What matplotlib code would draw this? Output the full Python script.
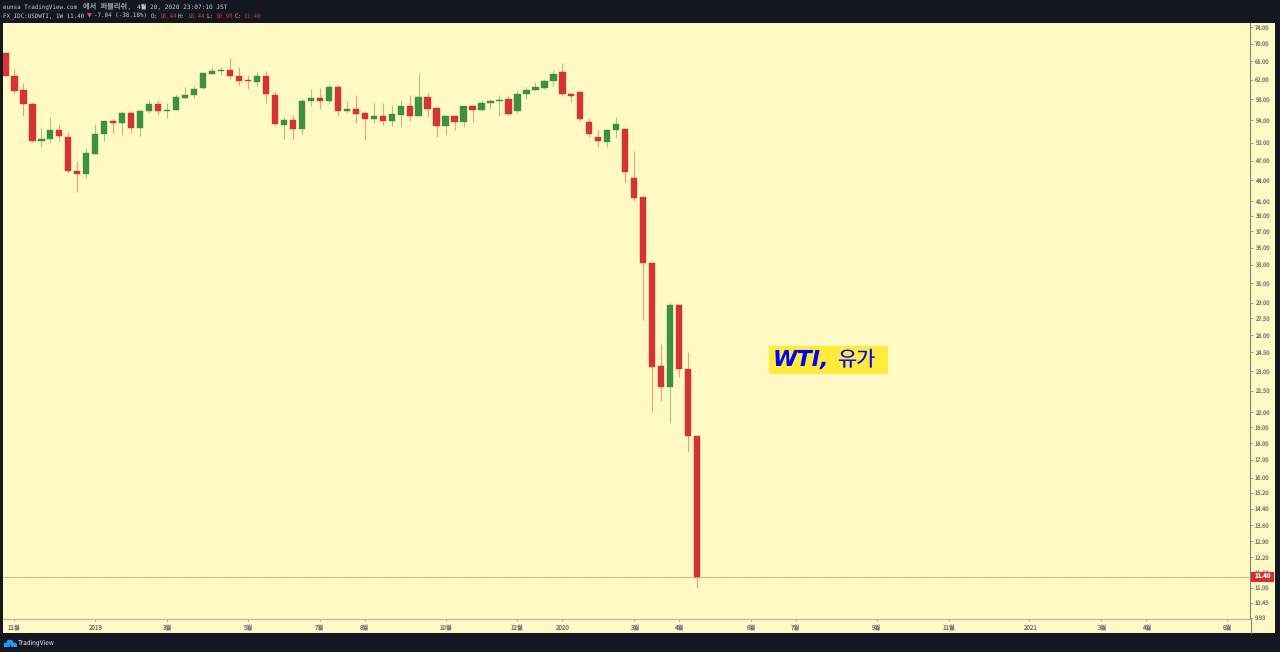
# wti_weekly.py
import matplotlib
matplotlib.use("Agg")
import matplotlib.pyplot as plt
from matplotlib.patches import Circle, Rectangle
import numpy as np

# =============================
# Dados semanais
# =============================
highs = [67.78, 64.19, 61.27, 57.44, 52.57, 54.59, 53.29, 51.86, 46.99, 49.11,
         53.29, 53.84, 54.22, 55.71, 55.71, 55.90, 57.83, 57.83, 57.24, 59.02,
         60.44, 60.85, 63.39, 64.70, 64.70, 66.64, 64.70, 62.96, 63.61, 63.83,
         59.63, 54.59, 54.96, 58.03, 60.03, 60.24, 61.06, 60.85, 57.63, 58.82,
         55.71, 57.44, 57.24, 56.86, 57.83, 58.82, 63.39, 59.22, 56.47, 54.96,
         54.77, 56.66, 56.86, 57.83, 58.03, 58.82, 58.62, 59.83, 60.44, 61.48,
         61.90, 64.04, 65.59, 59.22, 59.63, 54.40, 52.21, 52.39, 54.59, 52.57,
         48.62, 41.58, 33.22, 25.22, 29.09, 28.79, 24.54, 18.44]
lows = [62.75, 59.22, 54.77, 50.12, 49.28, 50.12, 50.29, 45.11, 42.28, 44.35,
        48.12, 50.29, 51.68, 51.33, 51.68, 51.15, 55.33, 54.96, 54.40, 55.90,
        58.03, 58.22, 60.03, 63.17, 62.96, 62.11, 60.85, 60.03, 60.65, 57.24,
        53.11, 50.64, 50.64, 51.50, 56.66, 56.09, 57.24, 54.77, 55.33, 53.47,
        50.47, 53.47, 53.11, 52.93, 52.75, 53.84, 54.77, 54.59, 50.98, 51.33,
        52.21, 52.75, 53.66, 55.71, 56.09, 54.77, 54.96, 55.33, 58.03, 59.83,
        60.03, 60.65, 58.62, 57.44, 53.84, 50.98, 49.28, 49.28, 50.81, 43.75,
        41.01, 27.37, 20.01, 20.77, 19.28, 22.54, 17.46, 10.98]
opens = [67.78, 62.75, 59.83, 57.05, 50.29, 50.64, 52.21, 50.98, 45.42, 44.96,
         48.12, 51.50, 53.84, 53.47, 55.33, 52.57, 55.71, 57.05, 55.71, 55.90,
         58.22, 58.82, 60.24, 63.17, 63.83, 64.04, 62.75, 61.90, 61.48, 62.75,
         58.82, 53.11, 54.02, 52.39, 57.63, 58.22, 57.63, 60.44, 55.71, 56.09,
         55.33, 54.22, 54.77, 53.84, 54.96, 56.66, 54.77, 58.42, 56.28, 52.93,
         54.77, 53.66, 56.66, 55.90, 57.24, 57.63, 58.03, 55.71, 59.02, 59.83,
         60.24, 61.69, 63.61, 59.02, 59.42, 53.66, 50.98, 50.12, 52.21, 52.39,
         44.35, 41.58, 33.22, 23.40, 21.79, 28.79, 23.16, 18.44]
closes = [62.75, 59.63, 57.05, 50.29, 50.64, 52.21, 51.15, 45.42, 44.96, 48.29,
          51.50, 53.84, 53.47, 55.33, 52.57, 55.71, 57.05, 55.71, 55.90, 58.42,
          58.82, 60.03, 63.39, 63.83, 64.04, 62.75, 61.69, 61.69, 62.75, 59.02,
          53.29, 54.02, 52.39, 57.63, 58.22, 57.63, 60.44, 55.71, 56.09, 55.15,
          54.22, 54.77, 53.84, 55.15, 56.66, 54.77, 58.42, 56.09, 52.93, 54.77,
          53.66, 56.66, 55.90, 57.24, 57.63, 57.83, 55.15, 59.02, 59.83, 60.44,
          61.69, 63.17, 59.02, 58.62, 54.22, 51.50, 50.29, 52.21, 53.29, 45.26,
          41.44, 33.22, 23.32, 21.79, 28.79, 23.16, 18.44, 11.40]

last_price = 11.40

price_ticks = [74, 70, 66, 62, 58, 54, 50, 47, 44, 41, 39, 37, 35, 33, 31, 29, 27.5,
               26, 24.5, 23, 21.5, 20, 19, 18, 17, 16, 15.2, 14.4, 13.6, 12.9, 12.2,
               11.6, 11.0, 10.45, 9.93]

week_ticks = [1, 10, 18, 27, 35, 40, 49, 57, 62, 70, 75, 83, 88, 97, 105, 114, 122, 127, 136]
week_labels = ["11월", "2019", "3월", "5월", "7월", "8월", "10월", "12월", "2020", "3월", "4월",
               "6월", "7월", "9월", "11월", "2021", "3월", "4월", "6월"]

# =============================
# Cores
# =============================
BG = "#131722"
PALE = "#FFF9C4"
RED = "#D32F2F"
GREEN = "#388E3C"
AXIS_TEXT = "#74767A"
CJK = ["Noto Sans CJK KR", "DejaVu Sans"]
MONO = ["DejaVu Sans Mono", "Noto Sans CJK KR"]
W, H = 1280, 652

plt.rcParams["text.hinting"] = "no_hinting"


def fx(x):
    return x / W


def fy(y):
    return 1 - y / H


fig = plt.figure(figsize=(W / 100, H / 100), dpi=100, facecolor=BG)

# painel claro inteiro (inclui as faixas dos eixos)
fig.add_artist(Rectangle((fx(3), fy(633)), fx(1272), 610 / H, transform=fig.transFigure,
                         facecolor=PALE, edgecolor="none", zorder=-1))

ax = fig.add_axes([fx(3), fy(619), fx(1247), 596 / H], facecolor=PALE)
ax.set_yscale("log")
ax.set_xlim(-0.27, 138.55)
ax.set_ylim(9.893, 75.14)

opens_a = np.array(opens)
closes_a = np.array(closes)
idx = np.arange(len(opens))
up = closes_a >= opens_a
colors = np.where(up, GREEN, RED)

# =============================
# Candles
# =============================
ax.vlines(idx, lows, highs, colors=colors, linewidth=0.8, alpha=0.45, zorder=2)
tops = np.maximum(opens_a, closes_a)
bots = np.minimum(opens_a, closes_a)
ax.bar(idx, tops - bots, bottom=bots, width=0.7, color=colors, edgecolor=colors,
       linewidth=0.3, alpha=0.97, zorder=3)

# linha do ultimo preco
ax.axhline(last_price, color="#B0643C", linewidth=0.6, linestyle=(0, (1, 1)), zorder=1)

# =============================
# Eixos
# =============================
for side in ["top", "left"]:
    ax.spines[side].set_visible(False)
ax.spines["bottom"].set_color("#BDB99C")
ax.spines["bottom"].set_linewidth(0.9)
ax.spines["right"].set_color("#85857A")
ax.spines["right"].set_linewidth(0.8)

ax.yaxis.tick_right()
ax.minorticks_off()
ax.set_yticks(price_ticks)
ax.set_yticklabels([f"{p:.2f}" for p in price_ticks], fontsize=4.2, color=AXIS_TEXT, family=CJK)
ax.tick_params(axis="y", which="major", length=2, width=0.5, color="#85857A", pad=1.5)
ax.tick_params(axis="y", which="minor", length=0)

ax.set_xticks(week_ticks)
ax.set_xticklabels(week_labels, fontsize=4.5, color=AXIS_TEXT, family=CJK)
ax.tick_params(axis="x", length=1.5, width=0.5, color="#85857A", pad=2.5)

# continuacao da linha do eixo de precos ate o rodape
fig.add_artist(plt.Line2D([fx(1250.5), fx(1250.5)], [fy(619), fy(633)], color="#85857A", linewidth=0.8))

# etiqueta do ultimo preco
fig.add_artist(Rectangle((fx(1251), fy(582)), fx(23), 10 / H, transform=fig.transFigure,
                         facecolor=RED, edgecolor="none", zorder=5))
fig.text(fx(1255), fy(577), "11.40", fontsize=4.4, color="white", fontweight="bold",
         va="center", ha="left", family=CJK, zorder=6)

# =============================
# Caixa de anotacao
# =============================
fig.add_artist(Rectangle((fx(769), fy(373.5)), fx(119), 27.5 / H, transform=fig.transFigure,
                         facecolor="#FFEB3B", edgecolor="none", zorder=4))
fig.text(fx(773), fy(359.5), "WTI,", fontsize=16, color="#0000FF", fontweight="bold",
         style="italic", va="center", ha="left", family=["DejaVu Sans"], zorder=6)
fig.text(fx(837), fy(359), "유가", fontsize=15, color="#0000FF",
         va="center", ha="left", family=["Noto Sans CJK KR"], zorder=6)

# =============================
# Cabecalho
# =============================
HEAD = "#CDD0D6"
for txt, x_txt, size, col in [("eunsa TradingView.com", 3, 4.25, HEAD), ("에서 퍼블리쉬,", 83, 5.2, "#9A9DA6"),
                              ("4월 20, 2020 23:07:10 JST", 137, 4.4, HEAD)]:
    fig.text(fx(x_txt), fy(7), txt, fontsize=size, color=col, va="center", family=MONO)
fig.text(fx(3), fy(16), "FX_IDC:USDWTI, 1W 11.40", fontsize=4.25, color=HEAD, va="center", family=MONO)
fig.text(fx(87), fy(15.5), "▼", fontsize=4.6, color="#EF5350", va="center", family=["DejaVu Sans"])
fig.text(fx(94.5), fy(16), "-7.04 (-38.18%)", fontsize=4.25, color=HEAD, va="center", family=MONO)
for label, x_label, value, x_value in [("O:", 151, "18.44", 159), ("H:", 178, "18.44", 187),
                                       ("L:", 206, "10.98", 215), ("C:", 235, "11.40", 243)]:
    fig.text(fx(x_label), fy(16), label, fontsize=4.25, color=HEAD, va="center", family=MONO)
    fig.text(fx(x_value), fy(16), value, fontsize=4.25, color="#D0393A", va="center", family=MONO)

# =============================
# Rodape: logo + nome
# =============================
for cx, cy, r in [(6.5, 644, 3), (10, 641.5, 3.4), (13.5, 644, 3)]:
    fig.add_artist(plt.Polygon([(fx(cx - r), fy(cy + 3.2)), (fx(cx + r), fy(cy + 3.2)),
                                (fx(cx + r), fy(cy)), (fx(cx - r), fy(cy))],
                               transform=fig.transFigure, facecolor="#2196F3", edgecolor="none"))
    fig.add_artist(Circle((fx(cx), fy(cy)), r / W, transform=fig.transFigure,
                          facecolor="#2196F3", edgecolor="none"))
fig.text(fx(17.5), fy(642.5), "TradingView", fontsize=4.8, color="#D6D8DE", va="center", family=["Roboto"])

fig.savefig("out.png", dpi=100, facecolor=BG)
plt.close(fig)
